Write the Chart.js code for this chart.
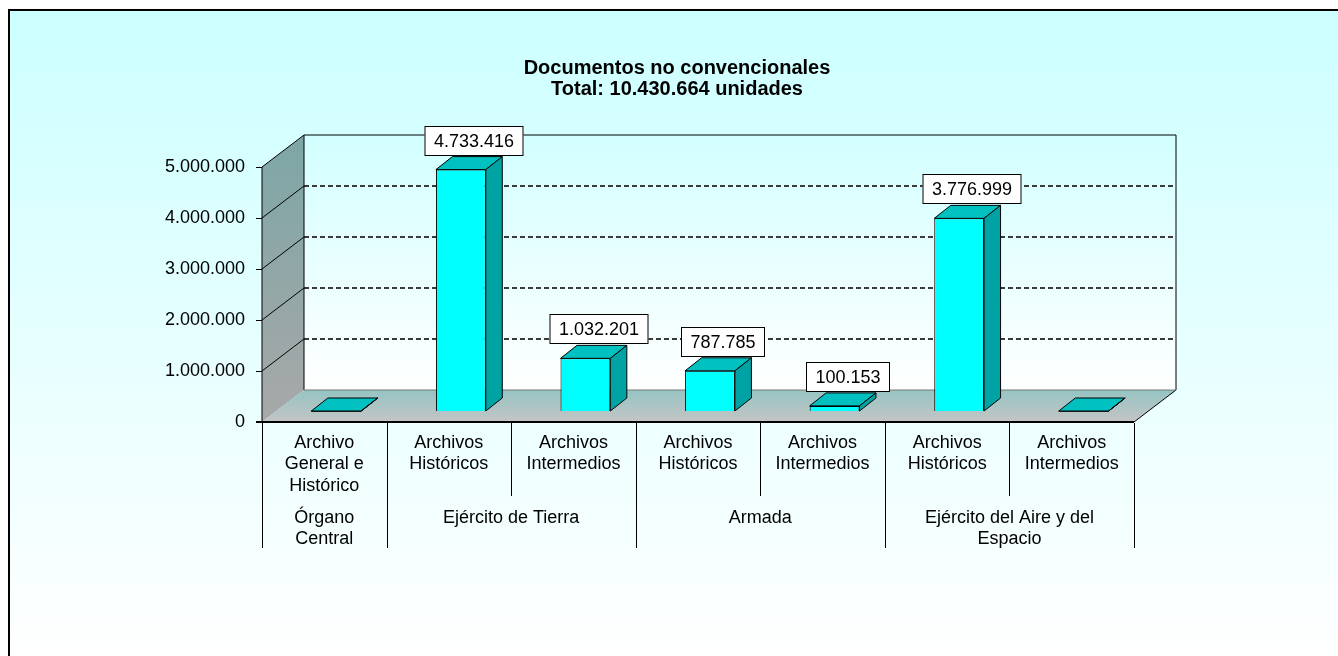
<!DOCTYPE html>
<html>
<head>
<meta charset="utf-8">
<script src="https://cdn.jsdelivr.net/npm/chart.js@4/dist/chart.umd.min.js"></script>
<style>
  html, body { margin: 0; padding: 0; background: #fff; }
  #wrap { width: 1338px; height: 656px; }
</style>
</head>
<body>
<div id="wrap"><canvas id="chart" width="1338" height="656"></canvas></div>
<script>
'use strict';
//___________DATA__________________
var subLabels = [
  ['Archivo', 'General e', 'Histórico'],
  ['Archivos', 'Históricos'],
  ['Archivos', 'Intermedios'],
  ['Archivos', 'Históricos'],
  ['Archivos', 'Intermedios'],
  ['Archivos', 'Históricos'],
  ['Archivos', 'Intermedios']
];
var groupLabels = [['Órgano', 'Central'], ['Ejército de Tierra'], ['Armada'], ['Ejército del Aire y del', 'Espacio']];
var groupSpans = [1, 2, 2, 2];
var unidades = [0, 4733416, 1032201, 787785, 100153, 3776999, 0];
var yMax = 5000000;
var yStep = 1000000;
var titleLines = ['Documentos no convencionales', 'Total: 10.430.664 unidades'];

var FONT = 'Arial, "Liberation Sans", sans-serif';
var DEPTH = {x: 42, y: -32};      // floor depth
var BAR_OFF = {x: 12, y: -11};    // bar front plane inside the floor
var BAR_DEPTH = {x: 16.5, y: -13};

function fmt(n) {
  return String(n).replace(/\B(?=(\d{3})+(?!\d))/g, '.');
}

function poly(ctx, pts, fill, stroke) {
  ctx.beginPath();
  ctx.moveTo(pts[0][0], pts[0][1]);
  for (var i = 1; i < pts.length; i++) ctx.lineTo(pts[i][0], pts[i][1]);
  ctx.closePath();
  if (fill) { ctx.fillStyle = fill; ctx.fill(); }
  if (stroke) { ctx.strokeStyle = stroke; ctx.lineWidth = 1; ctx.stroke(); }
}

function line(ctx, x0, y0, x1, y1) {
  ctx.beginPath();
  ctx.moveTo(x0, y0);
  ctx.lineTo(x1, y1);
  ctx.stroke();
}

//___________3D LOOK PLUGIN__________________
var box3d = {
  id: 'box3d',
  beforeDraw: function(chart) {
    var ctx = chart.ctx, a = chart.chartArea, ys = chart.scales.y;
    var W = chart.width, H = chart.height;
    ctx.save();
    ctx.fillStyle = '#fff';
    ctx.fillRect(0, 0, W, H);
    var bg = ctx.createLinearGradient(0, 10, 0, H);
    bg.addColorStop(0, '#CCFFFF');
    bg.addColorStop(1, '#FFFFFF');
    ctx.fillStyle = bg;
    ctx.fillRect(9, 10, W, H);
    ctx.strokeStyle = '#000';
    ctx.lineWidth = 2;
    ctx.strokeRect(9, 10, W + 20, H + 20);

    var bl = a.left + DEPTH.x, br = a.right + DEPTH.x;
    var bt = a.top + DEPTH.y, bb = a.bottom + DEPTH.y;

    // back wall
    var wg = ctx.createLinearGradient(0, bt, 0, bb);
    wg.addColorStop(0, '#D2FFFF');
    wg.addColorStop(1, '#FFFFFF');
    ctx.fillStyle = wg;
    ctx.fillRect(bl, bt, br - bl, bb - bt);

    // left wall
    var lg = ctx.createLinearGradient(0, bt, 0, a.bottom);
    lg.addColorStop(0, '#7DA6A6');
    lg.addColorStop(1, '#A8A8A8');
    poly(ctx, [[a.left, a.top], [bl, bt], [bl, bb], [a.left, a.bottom]], lg, null);

    // floor
    var fg = ctx.createLinearGradient(0, bb, 0, a.bottom);
    fg.addColorStop(0, '#96C4C4');
    fg.addColorStop(1, '#C4C4C4');
    poly(ctx, [[a.left, a.bottom], [bl, bb], [br, bb], [a.right, a.bottom]], fg, null);

    // gridlines
    ctx.strokeStyle = '#000';
    ctx.lineWidth = 1;
    for (var v = yStep; v < yMax; v += yStep) {
      var py = Math.round(ys.getPixelForValue(v));
      line(ctx, a.left, py, bl, py + DEPTH.y);
      ctx.save();
      ctx.setLineDash([5, 3]);
      ctx.strokeStyle = '#3a3a3a';
      ctx.lineWidth = 2;
      line(ctx, bl, py + DEPTH.y, br, py + DEPTH.y);
      ctx.restore();
    }

    // outlines
    ctx.strokeStyle = '#000';
    ctx.lineWidth = 1;
    ctx.beginPath();
    ctx.moveTo(a.left, a.bottom);
    ctx.lineTo(a.left, a.top);
    ctx.lineTo(bl, bt);
    ctx.lineTo(br, bt);
    ctx.lineTo(br, bb);
    ctx.lineTo(a.right, a.bottom);
    ctx.stroke();
    line(ctx, bl, bt, bl, bb);
    ctx.strokeStyle = '#777';
    line(ctx, bl, bb, br, bb);
    ctx.strokeStyle = '#000';
    ctx.lineWidth = 2;
    line(ctx, a.left - 6, a.bottom, a.right, a.bottom);
    ctx.lineWidth = 1;
    for (var t = 0; t <= yMax; t += yStep) {
      var ty = Math.round(ys.getPixelForValue(t)) + 0.5;
      line(ctx, a.left - 6, ty, a.left, ty);
    }
    ctx.restore();
  },
  beforeDatasetsDraw: function(chart) {
    chart.ctx.save();
    chart.ctx.translate(BAR_OFF.x, BAR_OFF.y);
  },
  afterDatasetsDraw: function(chart) {
    var ctx = chart.ctx;
    ctx.restore();
    var meta = chart.getDatasetMeta(0);
    var data = chart.data.datasets[0].data;
    ctx.save();
    meta.data.forEach(function(el, i) {
      var p = el.getProps(['x', 'y', 'base', 'width'], true);
      var x0 = p.x - p.width / 2 + BAR_OFF.x, x1 = p.x + p.width / 2 + BAR_OFF.x;
      var yt = p.y + BAR_OFF.y, yb = p.base + BAR_OFF.y;
      var dx = BAR_DEPTH.x, dy = BAR_DEPTH.y;
      if (yb - yt < 1) {
        poly(ctx, [[x0, yb], [x1, yb]], null, '#000');
      }
      poly(ctx, [[x0, yt], [x1, yt], [x1 + dx, yt + dy], [x0 + dx, yt + dy]], '#00C0C0', '#000');
      poly(ctx, [[x1, yt], [x1 + dx, yt + dy], [x1 + dx, yb + dy], [x1, yb]], '#00A3A3', '#000');

      if (data[i] > 0) {
        ctx.font = '18px ' + FONT;
        var txt = fmt(data[i]);
        var w = Math.round(ctx.measureText(txt).width + 19), h = 30;
        var cx = Math.round((x0 + x1 + dx) / 2 + 5);
        var bottom = Math.round(yt + dy - 1);
        ctx.fillStyle = '#fff';
        ctx.fillRect(cx - w / 2, bottom - h, w, h);
        ctx.strokeStyle = '#000';
        ctx.lineWidth = 1;
        ctx.strokeRect(cx - w / 2 + 0.5, bottom - h + 0.5, w - 1, h - 1);
        ctx.fillStyle = '#000';
        ctx.textAlign = 'center';
        ctx.textBaseline = 'middle';
        ctx.fillText(txt, cx, bottom - h / 2 + 1);
      }
    });
    ctx.restore();
  },
  afterDraw: function(chart) {
    var ctx = chart.ctx, a = chart.chartArea;
    var n = chart.data.labels.length;
    var cw = (a.right - a.left) / n;
    var groupEdges = [0];
    groupSpans.forEach(function(s) { groupEdges.push(groupEdges[groupEdges.length - 1] + s); });
    ctx.save();
    ctx.strokeStyle = '#000';
    ctx.lineWidth = 1;
    for (var k = 0; k <= n; k++) {
      var x = Math.round(a.left + k * cw) + 0.5;
      var yEnd = groupEdges.indexOf(k) >= 0 ? 548 : 496;
      line(ctx, x, a.bottom + 1, x, yEnd);
    }
    ctx.fillStyle = '#000';
    ctx.textAlign = 'center';
    ctx.textBaseline = 'middle';
    ctx.font = '18px ' + FONT;
    groupLabels.forEach(function(lines, g) {
      var cx = a.left + (groupEdges[g] + groupSpans[g] / 2) * cw;
      lines.forEach(function(t, j) { ctx.fillText(t, cx, 518 + j * 21.5); });
    });
    ctx.font = 'bold 20px ' + FONT;
    titleLines.forEach(function(t, j) { ctx.fillText(t, 677, 68 + j * 21); });
    ctx.restore();
  }
};

//___________CHART__________________
var ctx = document.getElementById('chart').getContext('2d');
new Chart(ctx, {
  type: 'bar',
  data: {
    labels: subLabels,
    datasets: [{
      label: 'Documentos no convencionales',
      data: unidades,
      backgroundColor: '#00FFFF',
      borderColor: '#000',
      borderWidth: 1,
      categoryPercentage: 0.8,
      barPercentage: 0.5,
      clip: false
    }]
  },
  options: {
    responsive: false,
    animation: false,
    events: [],
    layout: {padding: {left: 0, right: 204, top: 167, bottom: 0}},
    plugins: {legend: {display: false}, title: {display: false}, tooltip: {enabled: false}},
    scales: {
      x: {
        grid: {display: false, drawTicks: false},
        border: {display: false},
        ticks: {color: '#000', font: {family: FONT, size: 18, lineHeight: 1.2}, padding: 10, maxRotation: 0, autoSkip: false},
        afterFit: function(s) { s.height = 234; }
      },
      y: {
        min: 0,
        max: yMax,
        grid: {display: false, drawTicks: false},
        border: {display: false},
        ticks: {stepSize: yStep, color: '#000', font: {family: FONT, size: 18}, padding: 17, callback: function(v) { return fmt(v); }},
        afterFit: function(s) { s.width = 262; }
      }
    }
  },
  plugins: [box3d]
});
</script>
</body>
</html>
